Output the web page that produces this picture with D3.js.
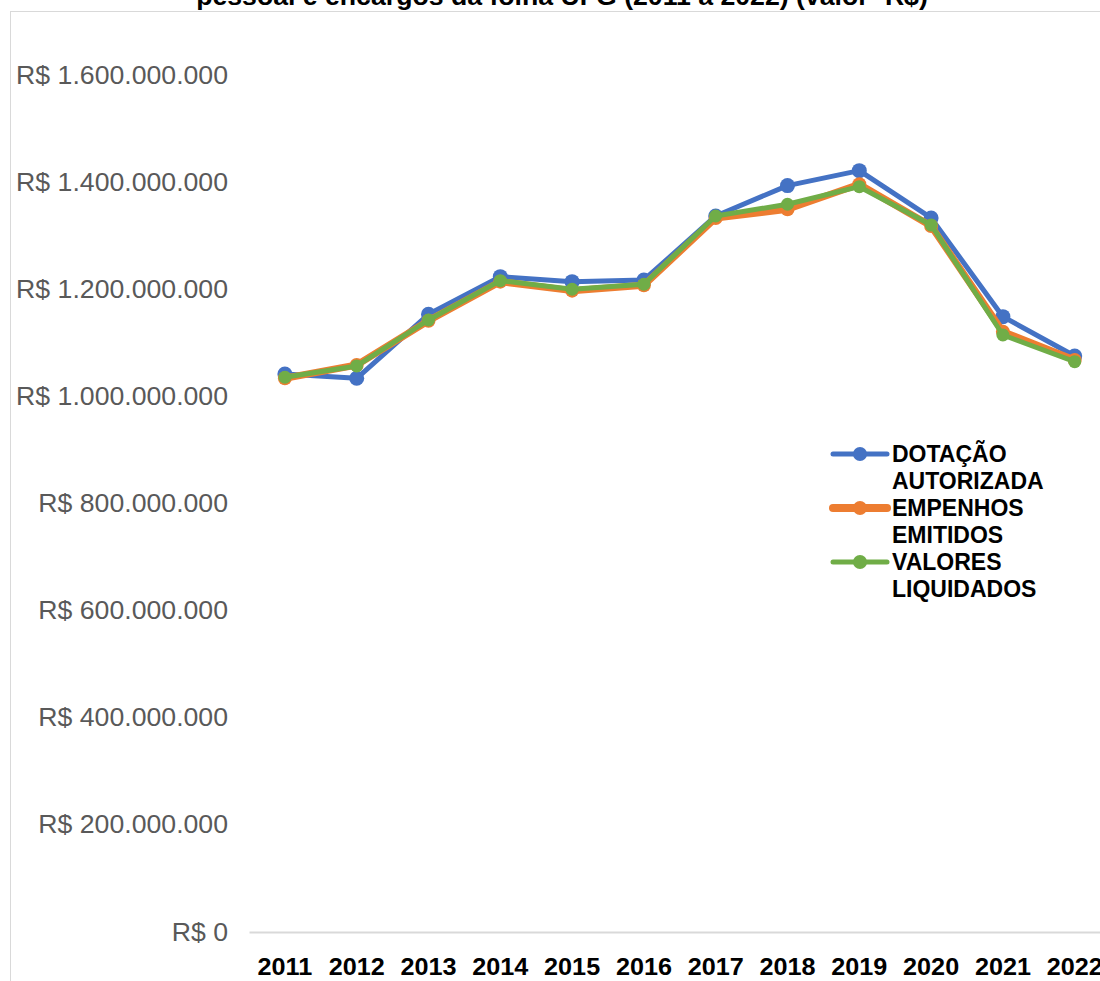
<!DOCTYPE html>
<html>
<head>
<meta charset="utf-8">
<script src="https://cdn.jsdelivr.net/npm/d3@7"></script>
<style>
  html, body { margin: 0; padding: 0; background: #fff; }
  svg { display: block; font-family: "Liberation Sans", Arial, sans-serif; }
</style>
</head>
<body>
<svg id="chart" width="1100" height="981"></svg>
<script>
// Despesas com pessoal e encargos da folha UFG, 2011 a 2022 (R$)
const years = ["2011","2012","2013","2014","2015","2016","2017","2018","2019","2020","2021","2022"];
const dotacaoAutorizada = [1041800000,1033800000,1153300000,1223500000,1214200000,1217300000,1336800000,1393500000,1421400000,1333100000,1148800000,1075400000];
const empenhosEmitidos  = [1033800000,1058600000,1141300000,1214200000,1197400000,1207400000,1333100000,1349300000,1396000000,1318100000,1120800000,1068000000];
const valoresLiquidados = [1035700000,1056800000,1142600000,1216000000,1200000000,1209300000,1336800000,1358700000,1391500000,1320000000,1114600000,1064800000];
const yTicks = [0,200000000,400000000,600000000,800000000,1000000000,1200000000,1400000000,1600000000];
const seriesNames = ["DOTAÇÃO AUTORIZADA","EMPENHOS EMITIDOS","VALORES LIQUIDADOS"];
const titleText = "pessoal e encargos da folha UFG (2011 a 2022) (valor- R$)";

const series = [
  { name: seriesNames[0], values: dotacaoAutorizada, color: "#4472C4", width: 5, r: 7.5, legendWidth: 5 },
  { name: seriesNames[1], values: empenhosEmitidos,  color: "#ED7D31", width: 7, r: 7,   legendWidth: 8 },
  { name: seriesNames[2], values: valoresLiquidados, color: "#70AD47", width: 5, r: 6.5, legendWidth: 5 }
];

// widen text slightly to the typeface width used in the chart
function widen(sel, factor) {
  sel.each(function () {
    const len = this.getComputedTextLength();
    d3.select(this).attr("textLength", len * factor).attr("lengthAdjust", "spacingAndGlyphs");
  });
}

const svg = d3.select("#chart");

// chart area frame
svg.append("rect")
  .attr("x", 10.5).attr("y", 11.5)
  .attr("width", 1200).attr("height", 1100)
  .attr("fill", "none").attr("stroke", "#d9d9d9").attr("stroke-width", 1);

// title (last line)
const title = svg.append("text")
  .attr("x", 562).attr("y", 5)
  .attr("text-anchor", "middle")
  .attr("font-size", 25).attr("font-weight", "bold").attr("fill", "#000")
  .text(titleText);
widen(title, 1.066);

const x = d3.scaleBand().domain(years).range([249, 249 + 12 * 71.8]).padding(0);
const y = d3.scaleLinear().domain([0, 1600000000]).range([932, 75]);

const br = d3.formatLocale({ decimal: ",", thousands: ".", grouping: [3], currency: ["R$ ", ""] });
const fmt = br.format("$,.0f");

// y axis labels (no gridlines)
const yAxis = d3.axisLeft(y).tickValues(yTicks).tickFormat(fmt).tickSize(0).tickPadding(0);
const gy = svg.append("g").attr("transform", "translate(228,0)").call(yAxis);
gy.select(".domain").remove();
gy.selectAll("text")
  .attr("font-family", "'Liberation Sans', Arial, sans-serif")
  .attr("font-size", 25).attr("fill", "#595959");
widen(gy.selectAll("text"), 1.066);

// x axis baseline and year labels
const xAxis = d3.axisBottom(x).tickSize(0).tickPadding(0);
const gx = svg.append("g").attr("transform", "translate(0,932)").call(xAxis);
gx.select(".domain").attr("stroke", "#d9d9d9").attr("stroke-width", 2);
gx.selectAll("text")
  .attr("font-family", "'Liberation Sans', Arial, sans-serif")
  .attr("font-size", 24).attr("font-weight", "bold").attr("fill", "#000")
  .attr("dy", null).attr("y", 43);
widen(gx.selectAll("text"), 1.05);

const line = d3.line()
  .x((d, i) => x(years[i]) + x.bandwidth() / 2)
  .y(d => y(d));

series.forEach(s => {
  const g = svg.append("g");
  g.append("path")
    .attr("d", line(s.values))
    .attr("fill", "none")
    .attr("stroke", s.color)
    .attr("stroke-width", s.width)
    .attr("stroke-linejoin", "round")
    .attr("stroke-linecap", "round");
  g.selectAll("circle").data(s.values).join("circle")
    .attr("cx", (d, i) => x(years[i]) + x.bandwidth() / 2)
    .attr("cy", d => y(d))
    .attr("r", s.r)
    .attr("fill", s.color);
});

// legend
const legend = svg.append("g");
const legendTop = 462;
const entryGap = 54;
const lineGap = 27;
series.forEach((s, i) => {
  const base = legendTop + i * entryGap;
  const cy = base - 8;
  legend.append("line")
    .attr("x1", 833).attr("x2", 887).attr("y1", cy).attr("y2", cy)
    .attr("stroke", s.color).attr("stroke-width", s.legendWidth)
    .attr("stroke-linecap", "round");
  legend.append("circle").attr("cx", 860).attr("cy", cy).attr("r", 7).attr("fill", s.color);
  const words = s.name.split(" ");
  const t = legend.append("text")
    .attr("x", 892).attr("y", base)
    .attr("font-size", 23).attr("font-weight", "bold").attr("fill", "#000");
  words.forEach((w, j) => {
    t.append("tspan").attr("x", 892).attr("y", base + j * lineGap).text(w);
  });
});
</script>
</body>
</html>
